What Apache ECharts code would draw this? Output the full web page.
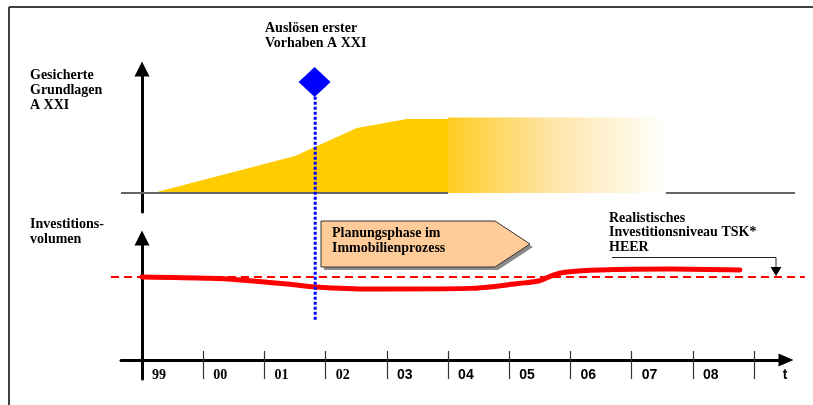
<!DOCTYPE html>
<html>
<head>
<meta charset="utf-8">
<script src="https://cdn.jsdelivr.net/npm/echarts@6/dist/echarts.min.js"></script>
<style>
html,body{margin:0;padding:0;background:#fff;}
#main{width:813px;height:405px;}
</style>
</head>
<body>
<div id="main"></div>
<script>
// ---------- data ----------
const yearLabels = ['99','00','01','02','03','04','05','06','07','08'];
const timeLabel = 't';
const yearTicks = [1,2,3,4,5,6,7,8,9,10];
// secured basis (upper panel), x in years since start of 1999, y relative level
const basisX = [0.18, 2.5, 3.51, 4.33, 5.0];
const basisY = [0, 0.5, 0.88, 1.0, 1.0];
const fadeX = [5.0, 8.55];
const fadeY = [1.02, 1.02];
const baselineX = [-0.343, 5.0, null, 8.56, 10.67];
// investment volume (lower panel)
const investX = [0, 1.11, 1.60, 2.42, 2.83, 3.73, 5.36, 6.18, 6.50, 6.72, 6.91, 7.48, 8.63, 9.77];
const investY = [1.0, 0.984, 0.964, 0.912, 0.880, 0.855, 0.863, 0.924, 0.955, 1.024, 1.057, 1.084, 1.096, 1.084];
const targetX = [-0.507, 10.83];
const targetLevel = 1.0;
// trigger of first projects
const triggerX = 2.82;
const triggerY = 1.5;
const triggerLineY = [1.30, -1.74];

const xMin = -0.343, xMax = 10.523;          // main panels: px 121 .. 786
const pxPerYear = 665 / (xMax - xMin);
const ovMin = xMin - 20 / pxPerYear, ovMax = xMax + 24 / pxPerYear;  // overlay: px 101 .. 810
const serif = 'Liberation Serif';
const sans = 'Liberation Sans';

function zip(xs, ys) { return xs.map((x, i) => [x, ys[i]]); }

const chart = echarts.init(document.getElementById('main'), null, {renderer: 'canvas'});

const hiddenY = {type: 'value', show: false, splitLine: {show: false}};

const option = {
  animation: false,
  backgroundColor: '#fff',
  grid: [
    {left: 121, right: 27, top: 69, bottom: 193},
    {left: 121, right: 27, top: 238, bottom: 26},
    {left: 101, right: 3, top: 7, bottom: 0}
  ],
  xAxis: [
    {gridIndex: 0, type: 'value', min: xMin, max: xMax, show: false},
    {gridIndex: 1, type: 'value', min: xMin, max: xMax, position: 'bottom',
      axisLine: {show: true, onZero: true, lineStyle: {color: '#000', width: 3},
        symbol: ['none', 'triangle'], symbolSize: [13, 15]},
      axisTick: {show: true, inside: false, length: 19, customValues: yearTicks,
        lineStyle: {color: '#333', width: 1.2}},
      splitLine: {show: false},
      axisLabel: {show: true, margin: -11,
        customValues: yearLabels.map((_, i) => i + 0.165).concat([10.47]),
        align: 'left',
        formatter: function (v) {
          if (v > 10) return '{s|' + timeLabel + '}';
          const i = Math.floor(v);
          return (i < 4 ? '{r|' : '{s|') + yearLabels[i] + '}';
        },
        rich: {
          r: {fontFamily: serif, fontWeight: 'bold', fontSize: 14, color: '#000'},
          s: {fontFamily: sans, fontWeight: 'bold', fontSize: 14, color: '#000'}
        }
      }
    },
    {gridIndex: 1, type: 'value', min: xMin, max: xMax, position: 'bottom',
      axisLine: {show: false, onZero: true, onZeroAxisIndex: 1},
      axisTick: {show: true, inside: true, length: 9, customValues: yearTicks,
        lineStyle: {color: '#333', width: 1.2}},
      axisLabel: {show: false}, splitLine: {show: false}
    },
    {gridIndex: 2, type: 'value', min: ovMin, max: ovMax, show: false}
  ],
  yAxis: [
    {gridIndex: 0, type: 'value', min: -0.257, max: 1.676,
      axisLine: {show: true, onZero: true, lineStyle: {color: '#000', width: 3},
        symbol: ['none', 'triangle'], symbolSize: [15, 15]},
      axisTick: {show: false}, axisLabel: {show: false}, splitLine: {show: false}},
    {gridIndex: 1, type: 'value', min: -0.229, max: 1.47,
      axisLine: {show: true, onZero: true, lineStyle: {color: '#000', width: 3},
        symbol: ['none', 'triangle'], symbolSize: [15, 15]},
      axisTick: {show: false}, axisLabel: {show: false}, splitLine: {show: false}},
    // overlay axes with the same scales as the upper (index 2) and lower (index 3) panels
    Object.assign({gridIndex: 2, min: (193 - 405) / 74, max: (193 - 7) / 74}, hiddenY),
    Object.assign({gridIndex: 2, min: (360 - 405) / 83, max: (360 - 7) / 83}, hiddenY)
  ],
  series: [
    {type: 'line', xAxisIndex: 0, yAxisIndex: 0, data: zip(basisX, basisY),
      symbol: 'none', lineStyle: {width: 0}, areaStyle: {color: '#FFCC00', opacity: 1}, z: 1},
    {type: 'line', xAxisIndex: 0, yAxisIndex: 0, data: zip(fadeX, fadeY),
      symbol: 'none', lineStyle: {width: 0},
      areaStyle: {opacity: 1, color: {type: 'linear', x: 0, y: 0, x2: 1, y2: 0,
        colorStops: [{offset: 0, color: '#FFCC22'}, {offset: 0.45, color: '#FFE3A0'}, {offset: 1, color: '#FFFFFF'}]}}, z: 1},
    {type: 'line', xAxisIndex: 3, yAxisIndex: 2,
      data: baselineX.map(x => x === null ? [null, null] : [x, 0]),
      connectNulls: false, symbol: 'none', lineStyle: {color: '#666', width: 2}, z: 2},
    {type: 'line', xAxisIndex: 3, yAxisIndex: 3,
      data: zip(targetX, [targetLevel, targetLevel]), symbol: 'none',
      lineStyle: {color: '#FF0000', width: 2, type: [8, 5]}, z: 3},
    {type: 'line', xAxisIndex: 1, yAxisIndex: 1, data: zip(investX, investY),
      smooth: 0.3, symbol: 'none',
      lineStyle: {color: '#FF0000', width: 5, cap: 'round'}, z: 4},
    {type: 'line', xAxisIndex: 3, yAxisIndex: 2,
      data: zip([triggerX + 0.01, triggerX + 0.01], triggerLineY), symbol: 'none',
      lineStyle: {color: '#0000FF', width: 3, type: [3, 2]}, z: 5},
    {type: 'scatter', xAxisIndex: 0, yAxisIndex: 0, data: [[triggerX, triggerY]],
      symbol: 'diamond', symbolSize: [32, 30], itemStyle: {color: '#0000FF', opacity: 1}, z: 6}
  ],
  graphic: [
    {type: 'line', shape: {x1: 9, y1: 7, x2: 813, y2: 7}, style: {stroke: '#000', lineWidth: 1.5}},
    {type: 'line', shape: {x1: 9, y1: 7, x2: 9, y2: 405}, style: {stroke: '#000', lineWidth: 1.5}},
    {type: 'polygon', z: 9,
      shape: {points: [[324, 224], [498, 224], [533, 247], [498, 270], [324, 270]]},
      style: {fill: '#8a8a8a'}},
    {type: 'polygon', z: 10,
      shape: {points: [[321, 221], [495, 221], [530, 244], [495, 267], [321, 267]]},
      style: {fill: '#FFCC99', stroke: '#333', lineWidth: 1}},
    {type: 'text', z: 11, left: 332, top: 226,
      style: {text: 'Planungsphase im\nImmobilienprozess', font: 'bold 14px "Liberation Serif"',
        lineHeight: 15, fill: '#000'}},
    {type: 'text', z: 11, left: 265, top: 21,
      style: {text: 'Auslösen erster\nVorhaben A XXI', font: 'bold 14px "Liberation Serif"',
        lineHeight: 15, fill: '#000'}},
    {type: 'text', z: 11, left: 30, top: 68,
      style: {text: 'Gesicherte\nGrundlagen\nA XXI', font: 'bold 14px "Liberation Serif"',
        lineHeight: 15, fill: '#000'}},
    {type: 'text', z: 11, left: 30, top: 217,
      style: {text: 'Investitions-\nvolumen', font: 'bold 14px "Liberation Serif"',
        lineHeight: 15, fill: '#000'}},
    {type: 'text', z: 11, left: 609, top: 211,
      style: {text: 'Realistisches\nInvestitionsniveau TSK*\nHEER', font: 'bold 14px "Liberation Serif"',
        lineHeight: 14.5, fill: '#000'}},
    {type: 'polyline', z: 11, shape: {points: [[612, 257.5], [776, 257.5], [776, 268]]},
      style: {stroke: '#222', lineWidth: 1, fill: null}},
    {type: 'polygon', z: 11, shape: {points: [[770.5, 267], [781.5, 267], [776, 276]]},
      style: {fill: '#000'}}
  ]
};
chart.setOption(option);
</script>
</body>
</html>
